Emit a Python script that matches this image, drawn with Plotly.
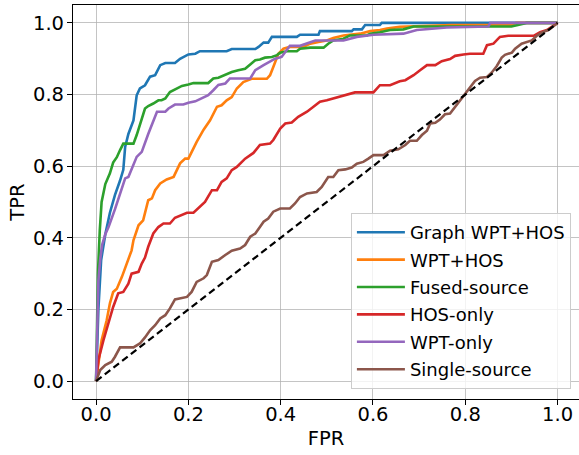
import plotly.graph_objects as go

# ---- data ----
labels = ["Graph WPT+HOS", "WPT+HOS", "Fused-source", "HOS-only", "WPT-only", "Single-source"]
colors = ["#1f77b4", "#ff7f0e", "#2ca02c", "#d62728", "#9467bd", "#8c564b"]

fpr_graph = [0, 0.005, 0.011, 0.015, 0.02, 0.03, 0.041, 0.052, 0.059, 0.063, 0.07, 0.081, 0.088, 0.095, 0.106,
             0.117, 0.128, 0.139, 0.15, 0.171, 0.182, 0.2, 0.215, 0.225, 0.283, 0.294, 0.345, 0.352, 0.363, 0.373,
             0.381, 0.435, 0.442, 0.482, 0.485, 0.554, 0.558, 0.576, 0.583, 0.615, 0.619, 1.0]
tpr_graph = [0, 0.2, 0.338, 0.37, 0.41, 0.47, 0.52, 0.56, 0.59, 0.654, 0.69, 0.728, 0.798, 0.817, 0.826,
             0.85, 0.854, 0.882, 0.888, 0.888, 0.9, 0.912, 0.914, 0.921, 0.921, 0.927, 0.927, 0.933, 0.945, 0.945,
             0.961, 0.961, 0.967, 0.967, 0.977, 0.977, 0.982, 0.982, 0.994, 0.994, 1.0, 1.0]

fpr_wpthos = [0, 0.005, 0.012, 0.023, 0.03, 0.037, 0.045, 0.056, 0.066, 0.077, 0.081, 0.092, 0.102, 0.113, 0.121,
              0.128, 0.139, 0.153, 0.168, 0.182, 0.193, 0.2, 0.218, 0.233, 0.247, 0.262, 0.272, 0.283, 0.294, 0.305,
              0.319, 0.337, 0.37, 0.377, 0.384, 0.395, 0.406, 0.42, 0.449, 0.464, 0.482, 0.5, 0.514, 0.536, 0.572,
              0.594, 0.615, 0.63, 0.658, 0.77, 0.9, 0.91, 1.0]
tpr_wpthos = [0, 0.05, 0.114, 0.17, 0.217, 0.249, 0.258, 0.291, 0.328, 0.365, 0.393, 0.435, 0.449, 0.505, 0.51,
              0.533, 0.552, 0.563, 0.57, 0.608, 0.621, 0.621, 0.668, 0.702, 0.728, 0.766, 0.77, 0.784, 0.793, 0.817,
              0.835, 0.844, 0.844, 0.854, 0.877, 0.914, 0.928, 0.933, 0.933, 0.942, 0.947, 0.951, 0.958, 0.965, 0.97,
              0.977, 0.98, 0.984, 0.989, 0.994, 0.994, 1.0, 1.0]

fpr_fused = [0, 0.004, 0.008, 0.012, 0.02, 0.03, 0.037, 0.045, 0.052, 0.059, 0.081, 0.088, 0.106, 0.113, 0.124,
             0.135, 0.142, 0.15, 0.16, 0.168, 0.186, 0.2, 0.211, 0.243, 0.254, 0.265, 0.28, 0.294, 0.308, 0.323,
             0.334, 0.345, 0.355, 0.366, 0.381, 0.392, 0.399, 0.413, 0.435, 0.442, 0.464, 0.493, 0.503, 0.514,
             0.536, 0.55, 0.587, 0.594, 0.615, 0.637, 0.666, 0.688, 0.9, 0.933, 1.0]
tpr_fused = [0, 0.3, 0.42, 0.5, 0.55, 0.58, 0.61, 0.625, 0.645, 0.663, 0.663, 0.687, 0.761, 0.768, 0.775,
             0.784, 0.784, 0.789, 0.807, 0.812, 0.824, 0.828, 0.832, 0.832, 0.845, 0.847, 0.855, 0.863, 0.868, 0.872,
             0.884, 0.896, 0.898, 0.903, 0.905, 0.91, 0.917, 0.921, 0.921, 0.928, 0.931, 0.931, 0.942, 0.951,
             0.956, 0.965, 0.965, 0.97, 0.974, 0.98, 0.982, 0.99, 0.99, 1.0, 1.0]

fpr_hos = [0, 0.005, 0.016, 0.027, 0.037, 0.048, 0.059, 0.07, 0.077, 0.092, 0.099, 0.106, 0.113, 0.124, 0.135,
           0.146, 0.16, 0.171, 0.186, 0.197, 0.211, 0.225, 0.236, 0.251, 0.262, 0.272, 0.283, 0.294, 0.305, 0.323,
           0.341, 0.355, 0.377, 0.384, 0.399, 0.41, 0.424, 0.438, 0.457, 0.471, 0.485, 0.5, 0.514, 0.529, 0.543,
           0.561, 0.601, 0.615, 0.637, 0.658, 0.67, 0.688, 0.702, 0.717, 0.735, 0.749, 0.767, 0.778, 0.796, 0.81,
           0.839, 0.847, 0.861, 0.875, 0.893, 0.948, 0.962, 0.977, 1.0]
tpr_hos = [0, 0.059, 0.114, 0.161, 0.207, 0.245, 0.249, 0.272, 0.3, 0.305, 0.328, 0.345, 0.375, 0.412, 0.43,
           0.44, 0.44, 0.456, 0.463, 0.47, 0.47, 0.486, 0.5, 0.533, 0.533, 0.556, 0.566, 0.589, 0.598, 0.621,
           0.637, 0.659, 0.663, 0.673, 0.705, 0.719, 0.722, 0.738, 0.752, 0.766, 0.78, 0.784, 0.789, 0.793, 0.8,
           0.806, 0.806, 0.826, 0.826, 0.837, 0.84, 0.854, 0.868, 0.882, 0.882, 0.893, 0.899, 0.908, 0.912, 0.914,
           0.914, 0.938, 0.942, 0.961, 0.964, 0.964, 0.974, 0.98, 1.0]

fpr_wpt = [0, 0.002, 0.005, 0.009, 0.013, 0.02, 0.027, 0.041, 0.052, 0.063, 0.07, 0.081, 0.088, 0.099, 0.106,
           0.113, 0.132, 0.15, 0.157, 0.171, 0.189, 0.2, 0.215, 0.233, 0.243, 0.254, 0.265, 0.28, 0.29, 0.334,
           0.345, 0.363, 0.377, 0.388, 0.402, 0.42, 0.442, 0.475, 0.536, 0.565, 0.601, 0.666, 0.695, 0.76, 0.85,
           0.854, 1.0]
tpr_wpt = [0, 0.15, 0.28, 0.34, 0.38, 0.41, 0.43, 0.48, 0.525, 0.566, 0.57, 0.603, 0.626, 0.64, 0.668,
           0.69, 0.752, 0.752, 0.761, 0.772, 0.772, 0.777, 0.781, 0.791, 0.798, 0.812, 0.827, 0.831, 0.845, 0.845,
           0.868, 0.882, 0.891, 0.9, 0.905, 0.936, 0.936, 0.951, 0.951, 0.961, 0.967, 0.97, 0.98, 0.987, 0.99,
           1.0, 1.0]

fpr_single = [0, 0.009, 0.02, 0.034, 0.041, 0.052, 0.081, 0.095, 0.106, 0.117, 0.128, 0.139, 0.15, 0.16, 0.171,
              0.182, 0.197, 0.207, 0.218, 0.233, 0.24, 0.251, 0.265, 0.28, 0.294, 0.312, 0.323, 0.334, 0.345, 0.355,
              0.363, 0.373, 0.384, 0.399, 0.42, 0.431, 0.442, 0.457, 0.478, 0.489, 0.503, 0.514, 0.525, 0.54, 0.554,
              0.565, 0.579, 0.59, 0.601, 0.623, 0.637, 0.655, 0.67, 0.68, 0.695, 0.706, 0.717, 0.724, 0.735, 0.745,
              0.756, 0.767, 0.778, 0.789, 0.8, 0.81, 0.821, 0.832, 0.847, 0.857, 0.868, 0.879, 0.886, 0.901, 0.908,
              0.922, 0.933, 0.944, 0.955, 0.965, 0.98, 1.0]
tpr_single = [0, 0.031, 0.045, 0.054, 0.068, 0.094, 0.094, 0.105, 0.122, 0.142, 0.156, 0.175, 0.184, 0.203, 0.228,
              0.231, 0.235, 0.249, 0.277, 0.287, 0.296, 0.333, 0.338, 0.352, 0.364, 0.37, 0.38, 0.403, 0.412, 0.43,
              0.445, 0.454, 0.473, 0.482, 0.482, 0.496, 0.514, 0.524, 0.528, 0.542, 0.57, 0.57, 0.589, 0.591, 0.596,
              0.607, 0.612, 0.621, 0.631, 0.631, 0.643, 0.647, 0.659, 0.671, 0.671, 0.687, 0.699, 0.719, 0.721, 0.73,
              0.745, 0.747, 0.766, 0.784, 0.803, 0.821, 0.838, 0.847, 0.849, 0.861, 0.879, 0.903, 0.911, 0.917, 0.928,
              0.942, 0.947, 0.951, 0.964, 0.973, 0.98, 1.0]

chance_x = [0, 1]
chance_y = [0, 1]

tick_vals = [0.0, 0.2, 0.4, 0.6, 0.8, 1.0]
tick_text = ["0.0", "0.2", "0.4", "0.6", "0.8", "1.0"]

series = [
    (fpr_graph, tpr_graph),
    (fpr_wpthos, tpr_wpthos),
    (fpr_fused, tpr_fused),
    (fpr_hos, tpr_hos),
    (fpr_wpt, tpr_wpt),
    (fpr_single, tpr_single),
]

FONT = "DejaVu Sans"
AXFS = 19.5

fig = go.Figure()
for i, ((xs, ys), name, col) in enumerate(zip(series, labels, colors)):
    fig.add_trace(go.Scatter(x=xs, y=ys, mode="lines", name=name, legendgroup=f"g{i}",
                             line=dict(color=col, width=2.6)))

fig.add_trace(go.Scatter(x=chance_x, y=chance_y, mode="lines", showlegend=False,
                         line=dict(color="black", width=2.2, dash="7px,4px")))

axis_common = dict(
    tickvals=tick_vals, ticktext=tick_text,
    showgrid=True, gridcolor="rgba(176,176,176,0.75)", gridwidth=1,
    zeroline=False, showline=True, linecolor="black", linewidth=1.2,
    ticks="outside", ticklen=5, tickwidth=1.2, tickcolor="black",
    tickfont=dict(family=FONT, size=AXFS, color="black"),
)

fig.update_layout(
    width=579, height=455,
    margin=dict(l=73, r=0, t=5, b=56, autoexpand=False),
    paper_bgcolor="white", plot_bgcolor="white",
    font=dict(family=FONT, size=18, color="black"),
    xaxis=dict(range=[-0.05, 1.0464], mirror=True, automargin=False,
               title=dict(text="FPR", font=dict(family=FONT, size=AXFS), standoff=6),
               ticklabelstandoff=-8,
               **axis_common),
    yaxis=dict(range=[-0.05, 1.05], automargin=False,
               title=dict(text="TPR", font=dict(family=FONT, size=AXFS), standoff=3),
               ticklabelstandoff=-1,
               **axis_common),
    legend=dict(x=0.984, y=0.0254, xanchor="right", yanchor="bottom",
                bgcolor="rgba(255,255,255,0.8)", bordercolor="#cccccc", borderwidth=1,
                font=dict(family=FONT, size=18, color="black"),
                tracegroupgap=1, itemwidth=48),
)

fig.write_html("out.html", config={"displayModeBar": False},
               post_script="document.body.style.margin='0px';document.body.style.padding='0px';")
